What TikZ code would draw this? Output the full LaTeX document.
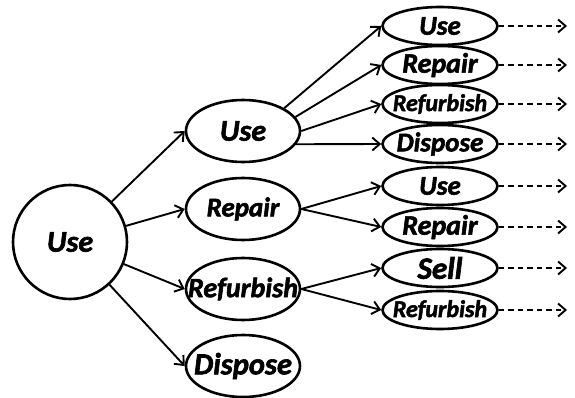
\documentclass[tikz,border=0pt]{standalone}
\usepackage{fontspec}
\setmainfont{Carlito}[BoldItalicFeatures={FakeBold=2}]
\usetikzlibrary{shapes.geometric,arrows.meta}
\tikzset{
  base/.style={draw, line width=2.6pt, inner sep=0pt},
  bigcirc/.style={base, circle, minimum size=114pt},
  midell/.style={base, ellipse, minimum width=114pt, minimum height=62pt},
  smallell/.style={base, ellipse, minimum width=115pt, minimum height=38pt},
  txt/.style={font=\fontsize{#1}{#1}\selectfont\bfseries\itshape, inner sep=0pt},
  arr/.style={line width=1.9pt, -{Straight Barb[length=7.5pt,width=13pt,line width=1.9pt]}},
  darr/.style={arr, dash pattern=on 5.5pt off 4pt},
}
\begin{document}
\begin{tikzpicture}[x=1pt,y=-1pt]
\useasboundingbox (0,0) rectangle (575,398);

% root
\node[bigcirc, label={[txt=30]center:Use}] (root) at (70,242) {};

% second level
\node[midell, label={[txt=30]center:Use}]       (m1) at (243,131) {};
\node[midell, label={[txt=27]center:Repair}]    (m2) at (243,209) {};
\node[midell, label={[txt=28]center:Refurbish}] (m3) at (243,289) {};
\node[midell, label={[txt=30.5]center:Dispose}] (m4) at (243,366) {};

% third level
\node[smallell, label={[txt=27]center:Use}]       (r1) at (440,26)  {};
\node[smallell, label={[txt=28]center:Repair}]    (r2) at (440,65)  {};
\node[smallell, label={[txt=24]center:Refurbish}] (r3) at (440,104) {};
\node[smallell, label={[txt=27]center:Dispose}]   (r4) at (440,144) {};
\node[smallell, label={[txt=27]center:Use}]       (r5) at (440,186) {};
\node[smallell, label={[txt=28]center:Repair}]    (r6) at (440,227) {};
\node[smallell, label={[txt=31]center:Sell}]      (r7) at (440,268) {};
\node[smallell, label={[txt=24]center:Refurbish}] (r8) at (440,310) {};

% root to second level
\foreach \m in {m1,m2,m3,m4} \draw[arr] (root) -- (\m.west);

% second level to third level
\draw[arr] (m1.29)  -- (r1.west);
\draw[arr] (m1.15)  -- (r2.west);
\draw[arr] (m1.east) -- (r3.west);
\draw[arr] (m1.-14) -- (r4.west);
\draw[arr] (m2.east) -- (r5.west);
\draw[arr] (m2.east) -- (r6.west);
\draw[arr] (m3.east) -- (r7.west);
\draw[arr] (m3.east) -- (r8.west);

% continuation arrows
\foreach \i/\y in {1/26,2/65,3/104,4/144,5/186,6/227,7/268,8/310} {
  \coordinate (d\i) at (567,\y);
  \draw[darr] (r\i.east) -- (d\i);
}
\end{tikzpicture}
\end{document}
